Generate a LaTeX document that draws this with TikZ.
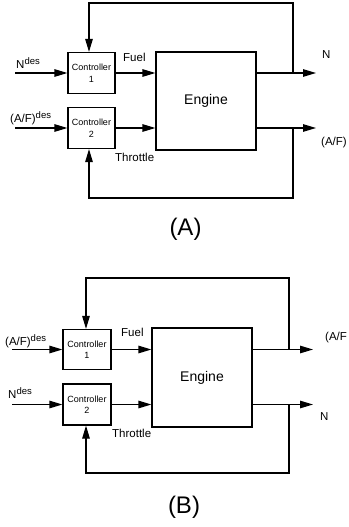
\documentclass[tikz,border=0pt]{standalone}
\usepackage{fontspec}
\setmainfont{Liberation Sans}
\usetikzlibrary{arrows.meta}
\tikzset{
  arr/.style={-{Triangle[length=13pt,width=7.5pt]}, line width=1.2pt},
  ctrl/.style={draw, line width=1.2pt, minimum width=47pt, minimum height=41pt, inner sep=0pt, align=center, font=\fontsize{9}{11.5}\selectfont},
  eng/.style={draw, line width=1.2pt, minimum width=100pt, minimum height=98pt, inner sep=0pt, font=\fontsize{14}{16}\selectfont},
  lbl/.style={inner sep=0pt, anchor=base west, font=\fontsize{11.5}{13}\selectfont},
  captxt/.style={inner sep=0pt, font=\fontsize{24}{28}\selectfont}
}
\newcommand{\sdes}{\raisebox{4pt}{\fontsize{9.5}{9.5}\selectfont des}}
\begin{document}
\begin{tikzpicture}[x=1pt,y=-1pt]
\useasboundingbox (0,0) rectangle (348,527);
% ---------------- (A) ----------------
\node[ctrl] (c1A) at (91.5,73) {Controller\\1};
\node[ctrl] (c2A) at (91.5,128) {Controller\\2};
\node[eng] (engA) at (206,101) {Engine};
\coordinate (inNA) at (15,73);
\coordinate (inAFA) at (15,128);
\coordinate (outNA) at (316,73);
\coordinate (outAFA) at (316,128);
\coordinate (fbNA) at (293,73);
\coordinate (fbAFA) at (293,128);
\coordinate (topA) at (89,3);
\coordinate (botA) at (89,198);
\draw[arr] (inNA) -- (c1A.west);
\draw[arr] (inAFA) -- (c2A.west);
\draw[arr] (c1A.east) -- (c1A.east -| engA.west);
\draw[arr] (c2A.east) -- (c2A.east -| engA.west);
\draw[arr] (outNA -| engA.east) -- (outNA);
\draw[arr] (outAFA -| engA.east) -- (outAFA);
\draw[arr] (fbNA) |- (topA) -- (topA |- c1A.north);
\draw[arr] (fbAFA) |- (botA) -- (botA |- c2A.south);
\node[lbl] (lNdesA) at (16,68) {N\sdes};
\node[lbl] (lAFdesA) at (10,122) {(A/F)\sdes};
\node[lbl] (lFuelA) at (123,61) {Fuel};
\node[lbl] (lThrA) at (115,161) {Throttle};
\node[lbl] (lNA) at (322,59) {N};
\node[lbl] (lAFA) at (321,145) {(A/F)};
\node[captxt] (capA) at (185.5,229) {(A)};
% ---------------- (B) ----------------
\node[ctrl, minimum width=48pt, minimum height=40pt] (c1B) at (87,349.5) {Controller\\1};
\node[ctrl, minimum width=48pt] (c2B) at (87,404.5) {Controller\\2};
\node[eng, minimum height=99pt] (engB) at (202,377.5) {Engine};
\coordinate (inAFB) at (12,349.5);
\coordinate (inNB) at (12,404.5);
\coordinate (outAFB) at (313,349.5);
\coordinate (outNB) at (313,404.5);
\coordinate (fbAFB) at (289,349.5);
\coordinate (fbNB) at (289,404.5);
\coordinate (topB) at (86,278);
\coordinate (botB) at (86,473);
\draw[arr] (inAFB) -- (c1B.west);
\draw[arr] (inNB) -- (c2B.west);
\draw[arr] (c1B.east) -- (c1B.east -| engB.west);
\draw[arr] (c2B.east) -- (c2B.east -| engB.west);
\draw[arr] (outAFB -| engB.east) -- (outAFB);
\draw[arr] (outNB -| engB.east) -- (outNB);
\draw[arr] (fbAFB) |- (topB) -- (topB |- c1B.north);
\draw[arr] (fbNB) |- (botB) -- (botB |- c2B.south);
\node[lbl] (lAFdesB) at (5,345) {(A/F)\sdes};
\node[lbl] (lNdesB) at (8,398) {N\sdes};
\node[lbl] (lFuelB) at (121,336) {Fuel};
\node[lbl] (lThrB) at (112,437) {Throttle};
\node[lbl] (lAFB) at (325,340) {(A/F};
\node[lbl] (lNB) at (320,420) {N};
\node[captxt] (capB) at (184,507) {(B)};
\end{tikzpicture}
\end{document}
